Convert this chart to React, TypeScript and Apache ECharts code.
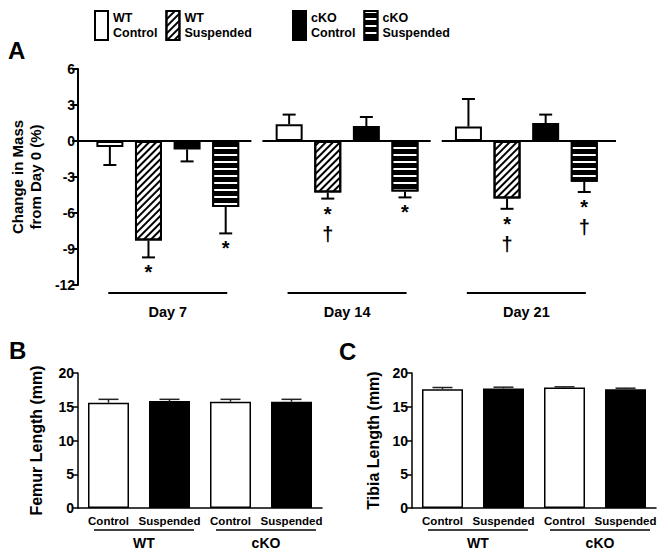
import React, { useEffect, useRef } from "react";
import * as echarts from "echarts";

// ---------- data ----------
const days = ["Day 7", "Day 14", "Day 21"];
const groupNames = ["WT\nControl", "WT\nSuspended", "cKO\nControl", "cKO\nSuspended"];

const wtControl = [-0.5, 1.4, 1.2];
const wtControlErr = [1.5, 0.8, 2.3];
const wtSusp = [-8.3, -4.3, -4.8];
const wtSuspErr = [1.4, 0.5, 0.85];
const ckoControl = [-0.7, 1.25, 1.5];
const ckoControlErr = [1.0, 0.75, 0.7];
const ckoSusp = [-5.5, -4.2, -3.4];
const ckoSuspErr = [2.2, 0.5, 0.85];

// significance markers: [asterisk, dagger] per day
const wtControlMarks = [["", ""], ["", ""], ["", ""]];
const wtSuspMarks = [["*", ""], ["*", "†"], ["*", "†"]];
const ckoControlMarks = [["", ""], ["", ""], ["", ""]];
const ckoSuspMarks = [["*", ""], ["*", ""], ["*", "†"]];

const massMin = -12;
const massMax = 6;
const massStep = 3;

const lengthCategories = ["Control", "Suspended", "Control", "Suspended"];
const genotypes = ["WT", "cKO"];
const femur = [15.6, 15.85, 15.75, 15.75];
const femurErr = [0.5, 0.25, 0.35, 0.35];
const tibia = [17.6, 17.7, 17.85, 17.6];
const tibiaErr = [0.25, 0.2, 0.1, 0.15];
const lengthMin = 0;
const lengthMax = 20;
const lengthStep = 5;

// ---------- styles ----------
const FONT = "'Liberation Sans', Arial, Helvetica, sans-serif";
const BLACK = "#000";
const WHITE = "#fff";

const barStyles: any[] = [
  { color: WHITE, borderColor: BLACK, borderWidth: 2 },
  {
    color: WHITE,
    borderColor: BLACK,
    borderWidth: 2,
    decal: {
      symbol: "rect",
      symbolSize: 1,
      color: BLACK,
      dashArrayX: [8, 0],
      dashArrayY: [1.3, 3],
      rotation: -Math.PI / 4,
    },
  },
  { color: BLACK, borderColor: BLACK, borderWidth: 2 },
  {
    color: BLACK,
    borderColor: BLACK,
    borderWidth: 2,
    decal: {
      symbol: "rect",
      symbolSize: 1,
      color: WHITE,
      dashArrayX: [8, 0],
      dashArrayY: [2, 4.3],
      rotation: 0,
    },
  },
];

const lengthColors = [WHITE, BLACK, WHITE, BLACK];

const BAR_A = 27;
const GAP_A = 0.43;

export default function App() {
  const ref = useRef<HTMLDivElement>(null);

  useEffect(() => {
    if (!ref.current) return;
    const chart = echarts.init(ref.current, undefined, { renderer: "svg" });

    const massSeries = [wtControl, wtSusp, ckoControl, ckoSusp];
    const massErrs = [wtControlErr, wtSuspErr, ckoControlErr, ckoSuspErr];
    const massMarks = [wtControlMarks, wtSuspMarks, ckoControlMarks, ckoSuspMarks];

    const step = BAR_A * (1 + GAP_A);

    const barsA = massSeries.map((vals, i) => ({
      type: "bar",
      name: groupNames[i],
      xAxisIndex: 0,
      yAxisIndex: 0,
      data: vals,
      barWidth: BAR_A,
      barGap: GAP_A * 100 + "%",
      itemStyle: barStyles[i],
      z: 2,
    }));

    const markText = (text: string, x: number, y: number) => ({
      type: "text",
      style: {
        text,
        x,
        y,
        align: "center",
        verticalAlign: "top",
        fontSize: 20,
        fontWeight: "bold",
        fontFamily: FONT,
        fill: BLACK,
      },
    });

    const errA = massSeries.map((vals, i) => ({
      type: "custom",
      name: "errA" + i,
      xAxisIndex: 0,
      yAxisIndex: 0,
      z: 4,
      data: vals.map((v, k) => [k, v, massErrs[i][k]]),
      renderItem: (params: any, api: any) => {
        const cat = api.value(0);
        const v = api.value(1);
        const e = api.value(2);
        const base = api.coord([cat, v]);
        const tip = api.coord([cat, v + (v < 0 ? -e : e)]);
        const x = base[0] + (i - 1.5) * step;
        const children: any[] = [
          {
            type: "line",
            shape: { x1: x, y1: base[1], x2: x, y2: tip[1] },
            style: { stroke: BLACK, lineWidth: 2 },
          },
          {
            type: "line",
            shape: { x1: x - 6.5, y1: tip[1], x2: x + 6.5, y2: tip[1] },
            style: { stroke: BLACK, lineWidth: 2 },
          },
        ];
        const [star, dagger] = massMarks[i][params.dataIndex];
        if (star) children.push(markText(star, x, tip[1] + 5));
        if (dagger) children.push(markText(dagger, x, tip[1] + 25));
        return { type: "group", children };
      },
    }));

    const axisA = {
      type: "custom",
      name: "axisA",
      xAxisIndex: 0,
      yAxisIndex: 0,
      z: 5,
      data: days.map((_, k) => [k, 0]),
      renderItem: (params: any, api: any) => {
        const k = api.value(0);
        const p = api.coord([k, 0]);
        const w = api.size([1, 0])[0];
        const left = p[0] - w / 2 + (k === 0 ? 0 : 5);
        const right = p[0] + w / 2 - (k === days.length - 1 ? 0 : 6);
        const yb = api.coord([k, massMin])[1] + 8;
        return {
          type: "group",
          children: [
            {
              type: "line",
              shape: { x1: left, y1: p[1], x2: right, y2: p[1] },
              style: { stroke: BLACK, lineWidth: 2 },
            },
            {
              type: "line",
              shape: { x1: p[0] - 59.5, y1: yb, x2: p[0] + 59.5, y2: yb },
              style: { stroke: BLACK, lineWidth: 2 },
            },
          ],
        };
      },
    };

    const lengthPanel = (vals: number[], errs: number[], idx: number) => {
      const bar = {
        type: "bar",
        name: "len" + idx,
        xAxisIndex: idx,
        yAxisIndex: idx,
        barWidth: 41,
        data: vals.map((v, k) => ({
          value: v,
          itemStyle: { color: lengthColors[k], borderColor: BLACK, borderWidth: 1.5 },
        })),
        z: 2,
      };
      const err = {
        type: "custom",
        name: "lenErr" + idx,
        xAxisIndex: idx,
        yAxisIndex: idx,
        z: 4,
        data: vals.map((v, k) => [k, v, errs[k]]),
        renderItem: (params: any, api: any) => {
          const cat = api.value(0);
          const v = api.value(1);
          const e = api.value(2);
          const base = api.coord([cat, v]);
          const tip = api.coord([cat, v + e]);
          return {
            type: "group",
            children: [
              {
                type: "line",
                shape: { x1: base[0], y1: base[1], x2: base[0], y2: tip[1] },
                style: { stroke: "#222", lineWidth: 1.5 },
              },
              {
                type: "line",
                shape: { x1: base[0] - 10, y1: tip[1], x2: base[0] + 10, y2: tip[1] },
                style: { stroke: "#222", lineWidth: 1.5 },
              },
            ],
          };
        },
      };
      const groups = {
        type: "custom",
        name: "lenGroups" + idx,
        xAxisIndex: idx,
        yAxisIndex: idx,
        z: 4,
        data: genotypes.map((_, k) => [2 * k, 0]),
        renderItem: (params: any, api: any) => {
          const c0 = api.value(0);
          const p0 = api.coord([c0, 0]);
          const p1 = api.coord([c0 + 1, 0]);
          const cx = (p0[0] + p1[0]) / 2 + 5;
          const y = p0[1] + 22;
          return {
            type: "group",
            children: [
              {
                type: "line",
                shape: { x1: cx - 50, y1: y, x2: cx + 50, y2: y },
                style: { stroke: BLACK, lineWidth: 1.5 },
              },
              {
                type: "text",
                style: {
                  text: genotypes[params.dataIndex],
                  x: cx,
                  y: y + 13,
                  align: "center",
                  verticalAlign: "middle",
                  fontSize: 14,
                  fontWeight: "bold",
                  fontFamily: FONT,
                  fill: BLACK,
                },
              },
            ],
          };
        },
      };
      return [bar, err, groups];
    };

    const yLenAxis = (idx: number, name: string, gap: number) => ({
      type: "value",
      gridIndex: idx,
      min: lengthMin,
      max: lengthMax,
      interval: lengthStep,
      name,
      nameLocation: "middle",
      nameGap: gap,
      nameTextStyle: { color: BLACK, fontWeight: "bold", fontSize: 16, fontFamily: FONT },
      axisLine: { show: true, lineStyle: { color: BLACK, width: 1.5 } },
      axisTick: { show: true, length: 6, lineStyle: { color: BLACK, width: 1.5 } },
      axisLabel: { color: BLACK, fontWeight: "bold", fontSize: 14, fontFamily: FONT, margin: 4 },
      splitLine: { show: false },
    });

    const xLenAxis = (idx: number) => ({
      type: "category",
      gridIndex: idx,
      data: lengthCategories,
      axisLine: { show: true, lineStyle: { color: BLACK, width: 1.5 } },
      axisTick: { show: false },
      axisLabel: {
        color: BLACK,
        fontWeight: "bold",
        fontSize: 11.5,
        fontFamily: FONT,
        margin: 7,
        interval: 0,
      },
    });

    const legendCommon = {
      top: 5,
      icon: "rect",
      itemWidth: 13,
      itemHeight: 29,
      itemGap: 8,
      selectedMode: false,
      textStyle: { color: BLACK, fontWeight: "bold", fontSize: 12.5, lineHeight: 15, fontFamily: FONT },
    };

    const option: any = {
      animation: false,
      backgroundColor: WHITE,
      textStyle: { fontFamily: FONT },
      legend: [
        { ...legendCommon, data: [groupNames[0], groupNames[1]], left: 89 },
        { ...legendCommon, data: [groupNames[2], groupNames[3]], left: 287 },
      ],
      graphic: [
        { type: "text", left: 8, top: 38, style: { text: "A", fontSize: 24, fontWeight: "bold", fontFamily: FONT, fill: BLACK } },
        { type: "text", left: 9, top: 338, style: { text: "B", fontSize: 24, fontWeight: "bold", fontFamily: FONT, fill: BLACK } },
        { type: "text", left: 339, top: 339, style: { text: "C", fontSize: 24, fontWeight: "bold", fontFamily: FONT, fill: BLACK } },
      ],
      grid: [
        { left: 78, top: 69, width: 538, height: 216 },
        { left: 78, top: 373, width: 244, height: 135 },
        { left: 412, top: 373, width: 244, height: 135 },
      ],
      xAxis: [
        {
          type: "category",
          gridIndex: 0,
          data: days,
          axisLine: { show: false, onZero: false },
          axisTick: { show: false },
          axisLabel: { color: BLACK, fontWeight: "bold", fontSize: 14.5, fontFamily: FONT, margin: 19 },
        },
        xLenAxis(1),
        xLenAxis(2),
      ],
      yAxis: [
        {
          type: "value",
          gridIndex: 0,
          min: massMin,
          max: massMax,
          interval: massStep,
          name: "Change in Mass\nfrom Day 0 (%)",
          nameLocation: "middle",
          nameGap: 31,
          nameTextStyle: { color: BLACK, fontWeight: "bold", fontSize: 15, lineHeight: 18, fontFamily: FONT },
          axisLine: { show: true, lineStyle: { color: BLACK, width: 2 } },
          axisTick: { show: true, length: 6, lineStyle: { color: BLACK, width: 2 } },
          axisLabel: { color: BLACK, fontWeight: "bold", fontSize: 14, fontFamily: FONT, margin: 3 },
          splitLine: { show: false },
        },
        yLenAxis(1, "Femur Length (mm)", 34),
        yLenAxis(2, "Tibia Length (mm)", 31),
      ],
      series: [
        ...barsA,
        ...errA,
        axisA,
        ...lengthPanel(femur, femurErr, 1),
        ...lengthPanel(tibia, tibiaErr, 2),
      ],
    };

    chart.setOption(option);
    return () => chart.dispose();
  }, []);

  return (
    <div
      ref={ref}
      style={{ position: "absolute", left: 0, top: 0, width: 668, height: 556, background: "#fff" }}
    />
  );
}
